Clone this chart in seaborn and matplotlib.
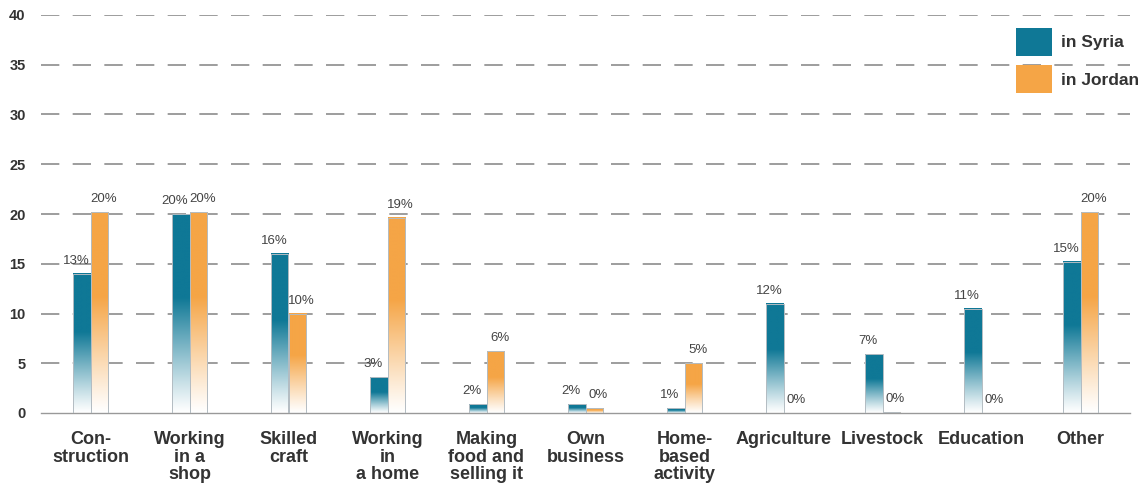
import numpy as np
import pandas as pd
import matplotlib
matplotlib.use("Agg")
import matplotlib.pyplot as plt
from matplotlib.patches import Patch
from matplotlib.colors import to_rgb
import seaborn as sns

# Data
categories = ["Con-\nstruction", "Working\nin a\nshop", "Skilled\ncraft",
              "Working\nin\na home", "Making\nfood and\nselling it", "Own\nbusiness",
              "Home-\nbased\nactivity", "Agriculture", "Livestock", "Education", "Other"]
syria = [14.0, 20.0, 16.0, 3.6, 0.9, 0.9, 0.5, 11.0, 5.9, 10.5, 15.2]
jordan = [20.2, 20.2, 10.0, 19.6, 6.2, 0.5, 5.0, 0.0, 0.1, 0.0, 20.2]
syria_labels = ["13%", "20%", "16%", "3%", "2%", "2%", "1%", "12%", "7%", "11%", "15%"]
jordan_labels = ["20%", "20%", "10%", "19%", "6%", "0%", "5%", "0%", "0%", "0%", "20%"]
series = ["in Syria", "in Jordan"]
yticks = [0, 5, 10, 15, 20, 25, 30, 35, 40]

teal = "#0f7896"
orange = "#f5a546"
txt = "#333333"

df = pd.DataFrame({
    "cat": categories * 2,
    "value": syria + jordan,
    "where": [series[0]] * len(syria) + [series[1]] * len(jordan),
})

sns.set_style("white")
plt.rcParams["font.family"] = ["Liberation Sans", "DejaVu Sans"]

fig = plt.figure(figsize=(11.47, 4.83), dpi=100)
ax = fig.add_axes([41 / 1147, 70 / 483, 1089 / 1147, 398 / 483])

sns.barplot(data=df, x="cat", y="value", hue="where", hue_order=series,
            palette=[teal, orange], width=0.36, ax=ax, legend=False,
            edgecolor="#b3bcc2", linewidth=0.7, zorder=3)

# gradient fill: solid colour at top fading to white at the bottom
def fill_gradient(bar, color):
    x, w, h = bar.get_x(), bar.get_width(), bar.get_height()
    if h <= 0:
        return
    t = np.linspace(0, 1, 200)
    f = np.clip(t / 0.58, 0, 1) ** 1.1
    c = np.array(to_rgb(color))
    rgb = (1 - f[:, None]) * np.ones(3) + f[:, None] * c
    img = rgb[:, None, :]
    ax.imshow(img, extent=[x, x + w, 0, h], origin="lower", aspect="auto",
              zorder=2.5, interpolation="bilinear")
    bar.set_facecolor("none")

for cont, color in zip(ax.containers, [teal, orange]):
    for bar in cont:
        fill_gradient(bar, color)

# value labels
for cont, labels, dx in zip(ax.containers, [syria_labels, jordan_labels], [-4, 3]):
    for bar, lab in zip(cont, labels):
        ax.annotate(lab, (bar.get_x() + bar.get_width() / 2, bar.get_height()),
                    xytext=(dx, 5), textcoords="offset points",
                    ha="center", va="bottom", fontsize=9.5, color="#444444")

ax.set_xlim(-0.5, 10.5)
ax.set_ylim(0, 40)
ax.set_yticks(yticks)
ax.set_xlabel("")
ax.set_ylabel("")

for y in yticks[1:]:
    ax.axhline(y, color="#8c8c8c", lw=1.2, ls=(0, (11, 8)), zorder=1)

for side in ["top", "right", "left"]:
    ax.spines[side].set_visible(False)
ax.spines["bottom"].set_color("#999999")
ax.spines["bottom"].set_linewidth(1.0)

ax.set_xticks(np.arange(-0.5, 11, 1), minor=True)
ax.tick_params(axis="x", which="minor", direction="in", length=7, color="#d0d0d0", width=1)
ax.tick_params(axis="x", which="major", length=0, pad=13)
ax.tick_params(axis="y", length=0, pad=11)

for lab in ax.get_xticklabels():
    lab.set_fontsize(13)
    lab.set_fontweight("bold")
    lab.set_color(txt)
    lab.set_linespacing(1.05)
    lab.set_va("top")
for lab in ax.get_yticklabels():
    lab.set_fontsize(10.5)
    lab.set_fontweight("bold")
    lab.set_color(txt)

handles = [Patch(facecolor=teal, edgecolor="none"), Patch(facecolor=orange, edgecolor="none")]
fig.legend(handles, series, loc="upper left", bbox_to_anchor=(1000 / 1147, 1 - 12 / 483),
           frameon=False, handlelength=2.1, handleheight=2.1, handletextpad=0.5,
           labelspacing=0.55, prop={"weight": "bold", "size": 12.5}, labelcolor=txt)

fig.savefig("out.png", dpi=100)
